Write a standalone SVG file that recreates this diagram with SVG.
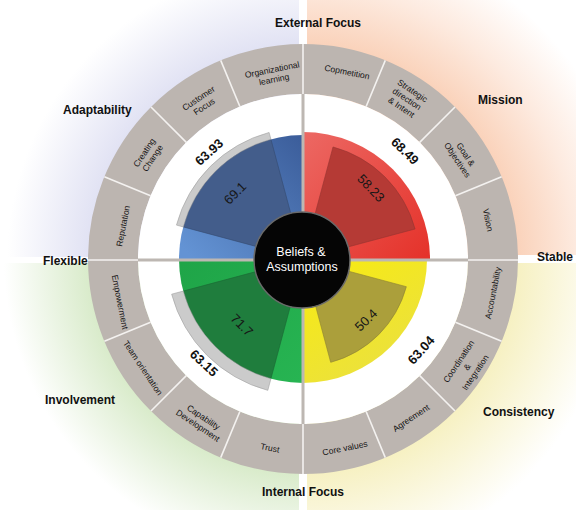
<svg xmlns="http://www.w3.org/2000/svg" width="576" height="510" viewBox="0 0 576 510">
<defs>
<style>
.lbl{font-family:"Liberation Sans",Arial,sans-serif;font-weight:bold;font-size:12px;fill:#111}
.seg{font-family:"Liberation Sans",Arial,sans-serif;font-size:8.6px;fill:#141414;text-anchor:middle}
.val{font-family:"Liberation Sans",Arial,sans-serif;font-weight:bold;font-size:13px;fill:#111;text-anchor:middle}
.inval{font-family:"Liberation Sans",Arial,sans-serif;font-size:13px;fill:#161616;text-anchor:middle}
.div{stroke:#f4f2f0;stroke-width:1.6}
.band{fill:#cbcbcb;stroke:#a0a0a0;stroke-width:0.6}
</style>
<radialGradient id="gTL" gradientUnits="userSpaceOnUse" cx="303" cy="259" r="340"><stop offset="0.62" stop-color="#e0e1f3"/><stop offset="0.87" stop-color="#ffffff"/></radialGradient>
<radialGradient id="gTR" gradientUnits="userSpaceOnUse" cx="303" cy="259" r="350"><stop offset="0.61" stop-color="#fad2ba"/><stop offset="0.78" stop-color="#fdeadf"/><stop offset="0.95" stop-color="#ffffff"/></radialGradient>
<radialGradient id="gBL" gradientUnits="userSpaceOnUse" cx="303" cy="259" r="340"><stop offset="0.62" stop-color="#d7eac8"/><stop offset="0.88" stop-color="#ffffff"/></radialGradient>
<radialGradient id="gBR" gradientUnits="userSpaceOnUse" cx="303" cy="259" r="340"><stop offset="0.62" stop-color="#f6f0c0"/><stop offset="0.92" stop-color="#ffffff"/></radialGradient>
<linearGradient id="qBlue" gradientUnits="userSpaceOnUse" x1="185" y1="250" x2="300" y2="138"><stop offset="0" stop-color="#6393d4"/><stop offset="1" stop-color="#3c5e9b"/></linearGradient>
<linearGradient id="qRed" gradientUnits="userSpaceOnUse" x1="306" y1="135" x2="428" y2="255"><stop offset="0" stop-color="#ec6762"/><stop offset="1" stop-color="#e5332b"/></linearGradient>
<linearGradient id="qYel" gradientUnits="userSpaceOnUse" x1="306" y1="262" x2="380" y2="375"><stop offset="0" stop-color="#f8eb10"/><stop offset="1" stop-color="#ebe13e"/></linearGradient>
<linearGradient id="qGrn" gradientUnits="userSpaceOnUse" x1="182" y1="265" x2="300" y2="380"><stop offset="0" stop-color="#1fa548"/><stop offset="1" stop-color="#27b452"/></linearGradient>
</defs>
<rect width="576" height="510" fill="#ffffff"/>
<g id="background">
<rect x="0" y="0" width="299" height="257" fill="url(#gTL)"/>
<rect x="307" y="0" width="269" height="255" fill="url(#gTR)"/>
<rect x="0" y="263" width="299" height="247" fill="url(#gBL)"/>
<rect x="307" y="263" width="269" height="247" fill="url(#gBR)"/>
</g>
<g id="ring">
<circle cx="303" cy="259" r="190" fill="none" stroke="#bcb5b0" stroke-width="50"/>
<circle cx="303" cy="259" r="165" fill="#ffffff"/>
</g>
<g id="quadrants">
<path id="q-adaptability" d="M303,259 L179,259 A124,124 0 0 1 303,135 Z" fill="url(#qBlue)"/>
<path id="q-mission" d="M303,259 L303,132 A127,127 0 0 1 430,259 Z" fill="url(#qRed)"/>
<path id="q-consistency" d="M303,259 L427,259 A124,124 0 0 1 303,383 Z" fill="url(#qYel)"/>
<path id="q-involvement" d="M303,259 L303,383 A124,124 0 0 1 179,259 Z" fill="url(#qGrn)"/>
</g>
<g id="wedges">
<path d="M303,259 L183.22,226.91 A124,124 0 0 1 270.91,139.22 Z" fill="#435d8b" stroke="#34496e" stroke-width="0.6"/>
<path class="band" d="M183.22,226.91 A124,124 0 0 1 270.91,139.22 L269.09,132.46 A131,131 0 0 0 176.46,225.09 Z"/>
<path d="M303,259 L333.02,146.95 A116,116 0 0 1 415.05,228.98 Z" fill="#b53a35" stroke="#963430" stroke-width="0.6"/>
<path d="M303,259 L406.35,286.69 A107,107 0 0 1 330.69,362.35 Z" fill="#ab9f3b" stroke="#8c8230" stroke-width="0.6"/>
<path d="M303,259 L270.91,378.78 A124,124 0 0 1 183.22,291.09 Z" fill="#1f7d3d" stroke="#1a6632" stroke-width="0.6"/>
<path class="band" d="M270.91,378.78 A124,124 0 0 1 183.22,291.09 L171.63,294.2 A136,136 0 0 0 267.8,390.37 Z"/>
</g>
<g id="connectors">
<line x1="303" y1="94" x2="303" y2="424" stroke="#bdb7b2" stroke-width="3"/>
<line x1="138" y1="260" x2="468" y2="260" stroke="#bdb7b2" stroke-width="3"/>
<line x1="303" y1="44" x2="303" y2="94" class="div" stroke-width="2"/>
<line x1="303" y1="424" x2="303" y2="474" class="div" stroke-width="2"/>
<line x1="88" y1="260" x2="138" y2="260" class="div" stroke-width="2"/>
<line x1="468" y1="260" x2="518" y2="260" class="div" stroke-width="2"/>
<line class="div" x1="455.44" y1="195.86" x2="501.63" y2="176.72"/>
<line class="div" x1="419.67" y1="142.33" x2="455.03" y2="106.97"/>
<line class="div" x1="366.14" y1="106.56" x2="385.28" y2="60.37"/>
<line class="div" x1="239.86" y1="106.56" x2="220.72" y2="60.37"/>
<line class="div" x1="186.33" y1="142.33" x2="150.97" y2="106.97"/>
<line class="div" x1="150.56" y1="195.86" x2="104.37" y2="176.72"/>
<line class="div" x1="455.44" y1="322.14" x2="501.63" y2="341.28"/>
<line class="div" x1="419.67" y1="375.67" x2="455.03" y2="411.03"/>
<line class="div" x1="366.14" y1="411.44" x2="385.28" y2="457.63"/>
<line class="div" x1="239.86" y1="411.44" x2="220.72" y2="457.63"/>
<line class="div" x1="186.33" y1="375.67" x2="150.97" y2="411.03"/>
<line class="div" x1="150.56" y1="322.14" x2="104.37" y2="341.28"/>
</g>
<g id="center">
<circle cx="302" cy="260" r="48" fill="#050505" stroke="#6a6a6a" stroke-width="1.5"/>
<text x="301" y="256" font-family="Liberation Sans, Arial, sans-serif" font-size="12.5" fill="#ffffff" text-anchor="middle">Beliefs &amp;</text>
<text x="302" y="271" font-family="Liberation Sans, Arial, sans-serif" font-size="12.5" fill="#ffffff" text-anchor="middle">Assumptions</text>
</g>
<g id="values">
<text class="val" transform="translate(209,152) rotate(-42)" dy="0.35em">63.93</text>
<text class="inval" transform="translate(235,193) rotate(-45)" dy="0.35em" fill="#1b2844">69.1</text>
<text class="val" transform="translate(405,151) rotate(44)" dy="0.35em">68.49</text>
<text class="inval" transform="translate(371,188) rotate(46)" dy="0.35em">58.23</text>
<text class="inval" transform="translate(366,320) rotate(-44)" dy="0.35em">50.4</text>
<text class="val" transform="translate(421,350) rotate(-48)" dy="0.35em">63.04</text>
<text class="inval" transform="translate(242,325) rotate(45)" dy="0.35em">71.7</text>
<text class="val" transform="translate(204,363) rotate(43)" dy="0.35em">63.15</text>
</g>
<g id="segments">
<g id="s-org" transform="translate(273,74) rotate(-11.25)"><text class="seg" y="-1.5">Organizational</text><text class="seg" y="8.5">learning</text></g>
<g id="s-customer" transform="translate(201,102) rotate(-33.75)"><text class="seg" y="-1.5">Customer</text><text class="seg" y="8.5">Focus</text></g>
<g id="s-creating" transform="translate(148,155) rotate(-56.25)"><text class="seg" y="-1.5">Creating</text><text class="seg" y="8.5">Change</text></g>
<g id="s-reputation" transform="translate(123,226) rotate(-78.75)"><text class="seg" y="3">Reputation</text></g>
<g id="s-competition" transform="translate(347,72) rotate(11.25)"><text class="seg" y="3">Copmetition</text></g>
<g id="s-strategic" transform="translate(407,99) rotate(33.75)"><text class="seg" y="-7">Strategic</text><text class="seg" y="3">direction</text><text class="seg" y="13">&amp; Intent</text></g>
<g id="s-goal" transform="translate(462,157) rotate(56.25)"><text class="seg" y="-1.5">Goal &amp;</text><text class="seg" y="8.5">Objectives</text></g>
<g id="s-vision" transform="translate(488,220) rotate(78.75)"><text class="seg" y="3">Vision</text></g>
<g id="s-accountability" transform="translate(493,293) rotate(-78.75)"><text class="seg" y="3">Accountability</text></g>
<g id="s-coordination" transform="translate(467,367) rotate(-56.25)"><text class="seg" y="-7">Coordination</text><text class="seg" y="3">&amp;</text><text class="seg" y="13">Integration</text></g>
<g id="s-agreement" transform="translate(411,418) rotate(-33.75)"><text class="seg" y="3">Agreement</text></g>
<g id="s-core" transform="translate(345,448) rotate(-11.25)"><text class="seg" y="3">Core values</text></g>
<g id="s-trust" transform="translate(270,448) rotate(11.25)"><text class="seg" y="3">Trust</text></g>
<g id="s-capability" transform="translate(201,421) rotate(33.75)"><text class="seg" y="-1.5">Capability</text><text class="seg" y="8.5">Development</text></g>
<g id="s-team" transform="translate(143,368) rotate(56.25)"><text class="seg" y="3">Team orientation</text></g>
<g id="s-empowerment" transform="translate(120,302) rotate(78.75)"><text class="seg" y="3">Empowerment</text></g>
</g>
<g id="labels">
<text class="lbl" x="318" y="27" text-anchor="middle">External Focus</text>
<text class="lbl" x="303" y="496" text-anchor="middle">Internal Focus</text>
<text class="lbl" x="43" y="265">Flexible</text>
<text class="lbl" x="537" y="261">Stable</text>
<text class="lbl" x="63" y="114">Adaptability</text>
<text class="lbl" x="478" y="104">Mission</text>
<text class="lbl" x="45" y="404">Involvement</text>
<text class="lbl" x="483" y="416">Consistency</text>
</g>
</svg>
